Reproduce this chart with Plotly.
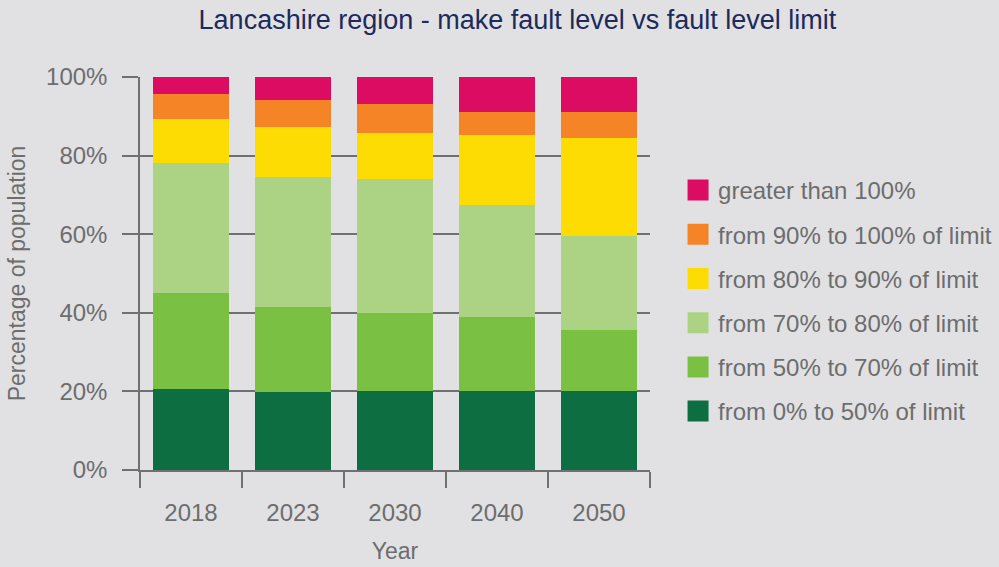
import plotly.graph_objects as go

# ── data ───────────────────────────────────────────────────
years = ["2018", "2023", "2030", "2040", "2050"]

band_0_50 = [20.7, 19.8, 20.0, 20.0, 20.0]
band_50_70 = [24.4, 21.8, 20.0, 19.0, 15.7]
band_70_80 = [33.1, 33.0, 34.1, 28.5, 23.9]
band_80_90 = [11.2, 12.8, 11.7, 17.8, 24.9]
band_90_100 = [6.4, 6.7, 7.3, 5.8, 6.6]
band_over_100 = [4.2, 5.9, 6.9, 8.9, 8.9]

y_ticks = [0, 20, 40, 60, 80, 100]
y_tick_text = ["0%", "20%", "40%", "60%", "80%", "100%"]

labels = [
    "from 0% to 50% of limit",
    "from 50% to 70% of limit",
    "from 70% to 80% of limit",
    "from 80% to 90% of limit",
    "from 90% to 100% of limit",
    "greater than 100%",
]
colors = ["#0c6e41", "#7ac143", "#acd384", "#fddc03", "#f58426", "#db0c61"]
series = [band_0_50, band_50_70, band_70_80, band_80_90, band_90_100, band_over_100]

BG = "#e1e1e3"
GREY = "#6d6d6d"
AXIS = "#707070"
FONT = "Liberation Sans, Arial, sans-serif"

fig = go.Figure()

for i, (name, vals, col) in enumerate(zip(labels, series, colors)):
    fig.add_trace(go.Bar(
        x=years, y=vals, name=name, marker=dict(color=col, line_width=0),
        showlegend=False, legendgroup=str(i),
    ))
    # legend-only proxy so the swatch is a larger square; top band listed first
    fig.add_trace(go.Scatter(
        x=[None], y=[None], mode="markers", name=name, legendgroup=str(i),
        legendrank=100 - i,
        marker=dict(symbol="square", size=16, color=col, line=dict(color=col, width=5)),
    ))

fig.update_layout(
    barmode="stack",
    bargap=0.25,
    width=999, height=567,
    paper_bgcolor=BG, plot_bgcolor=BG,
    font=dict(family=FONT, color=GREY, size=23),
    margin=dict(l=140, r=349, t=77, b=97, autoexpand=False),
    title=dict(text="Lancashire region - make fault level vs fault level limit",
               x=0.518, xanchor="center", y=0.965, yanchor="middle",
               font=dict(size=27, color="#1c2a5c")),
    legend=dict(
        x=1.055, xanchor="left", y=0.43, yanchor="middle",
        traceorder="grouped", tracegroupgap=10,
        font=dict(size=24, color=GREY), bgcolor="rgba(0,0,0,0)",
    ),
)

fig.update_yaxes(
    range=[0, 100], tickmode="array", tickvals=y_ticks, ticktext=y_tick_text,
    showgrid=True, gridcolor=AXIS, gridwidth=1.5,
    showline=True, linecolor=AXIS, linewidth=1.5,
    ticks="outside", ticklen=16, tickcolor=AXIS, tickwidth=1.5,
    ticklabelstandoff=10,
    tickfont=dict(size=24), zeroline=False,
    title=dict(text="Percentage of population", font=dict(size=23), standoff=14),
)
fig.update_xaxes(
    showline=True, linecolor=AXIS, linewidth=1.5,
    ticks="outside", tickson="boundaries", ticklen=16, tickcolor=AXIS, tickwidth=1.5,
    ticklabelstandoff=20,
    tickfont=dict(size=24),
    title=dict(text="Year", font=dict(size=23), standoff=18),
)

fig.write_html("out.html", config={"displayModeBar": False},
               post_script="document.body.style.margin='0';")
